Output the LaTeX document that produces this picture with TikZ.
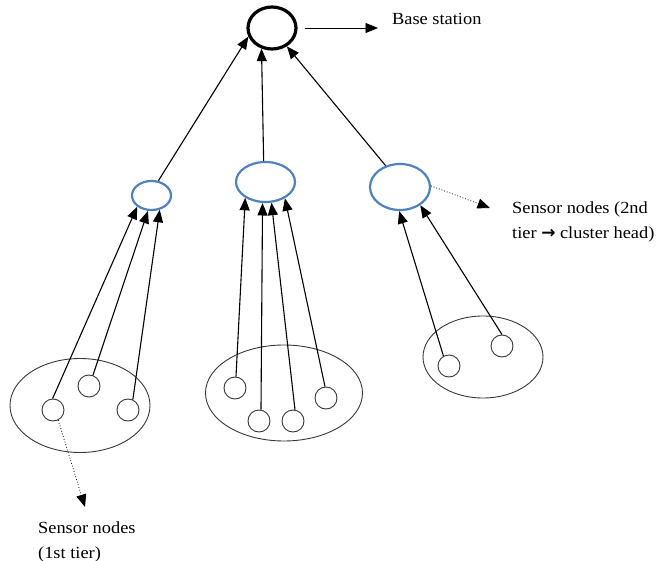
\documentclass[tikz,border=0pt]{standalone}
\usepackage{fontspec}
\setmainfont{Liberation Serif}[FakeStretch=1.08]
\newfontfamily\arrowfont{DejaVu Sans}
\usetikzlibrary{arrows.meta,shapes.geometric}
\definecolor{headblue}{RGB}{79,129,189}
\definecolor{ringgray}{RGB}{55,55,55}
\begin{document}
\begin{tikzpicture}[x=1pt,y=-1pt,
  basestn/.style={ellipse,draw,line width=3.2pt,inner sep=0pt,minimum width=48pt,minimum height=42pt},
  chead/.style={ellipse,draw=headblue,line width=2.2pt,inner sep=0pt},
  cluster/.style={ellipse,draw=ringgray,line width=0.9pt,inner sep=0pt},
  sensor/.style={circle,draw=ringgray,line width=0.9pt,inner sep=0pt,minimum size=22pt},
  tip/.style={-{Triangle[length=12.5pt,width=10pt]}},
  link/.style={line width=1.1pt,tip},
  pointer/.style={line width=0.8pt,dotted,tip},
  caption/.style={inner sep=0pt,anchor=north west,align=left,font=\fontsize{17}{24.5}\selectfont}]
\useasboundingbox (0,0) rectangle (662,561);

% base station
\node[basestn] (bs) at (272,28) {};
\node[caption,anchor=base west] (bsl) at (392,25) {Base station};
\draw[line width=0.9pt,tip,shorten <=7pt,shorten >=14pt]
  (bs.east) -- (bs.east -| bsl.west);

% cluster heads (2nd tier)
\node[chead,minimum width=39pt,minimum height=29pt] (ch1) at (151.5,195.5) {};
\node[chead,minimum width=59pt,minimum height=40pt] (ch2) at (265.5,182) {};
\node[chead,minimum width=60pt,minimum height=46pt] (ch3) at (400,187) {};

\draw[link] (ch1.65)  -- (bs.200);
\draw[link] (ch2.95)  -- (bs.243);
\draw[link] (ch3.124) -- (bs.309);

% clusters of 1st tier sensor nodes
\node[cluster,minimum width=140pt,minimum height=94pt] (g1) at (80,405.5) {};
\node[cluster,minimum width=157pt,minimum height=96pt] (g2) at (284,393) {};
\node[cluster,minimum width=120pt,minimum height=82pt] (g3) at (483,357) {};

\node[sensor] (s1) at (53,410) {};
\node[sensor] (s2) at (89,386) {};
\node[sensor] (s3) at (128,410) {};

\node[sensor] (m1) at (235,388) {};
\node[sensor] (m2) at (259,421) {};
\node[sensor] (m3) at (293,421) {};
\node[sensor] (m4) at (326,398) {};

\node[sensor] (r1) at (449,366) {};
\node[sensor] (r2) at (502,346) {};

\draw[link] (s1.92) -- (ch1.218);
\draw[link] (s2.70) -- (ch1.257);
\draw[link] (s3.65) -- (ch1.300);

\draw[link] (m1.85) -- (ch2.218);
\draw[link] (m2.80) -- (ch2.262);
\draw[link] (m3.80) -- (ch2.286);
\draw[link] (m4.95) -- (ch2.320);

\draw[link] (r1.119) -- (ch3.268);
\draw[link] (r2.90)  -- (ch3.318);

% labels
\coordinate (p2) at (490,208);
\draw[pointer] (ch3.2) -- (p2);
\node[caption] (l2) at (512,202) {Sensor nodes (2nd\\tier {\arrowfont\bfseries →} cluster head)};

\coordinate (p1) at (85,507);
\draw[pointer] (s1.297) -- (p1);
\node[caption] (l1) at (38,522) {Sensor nodes\\(1st tier)};
\end{tikzpicture}
\end{document}
